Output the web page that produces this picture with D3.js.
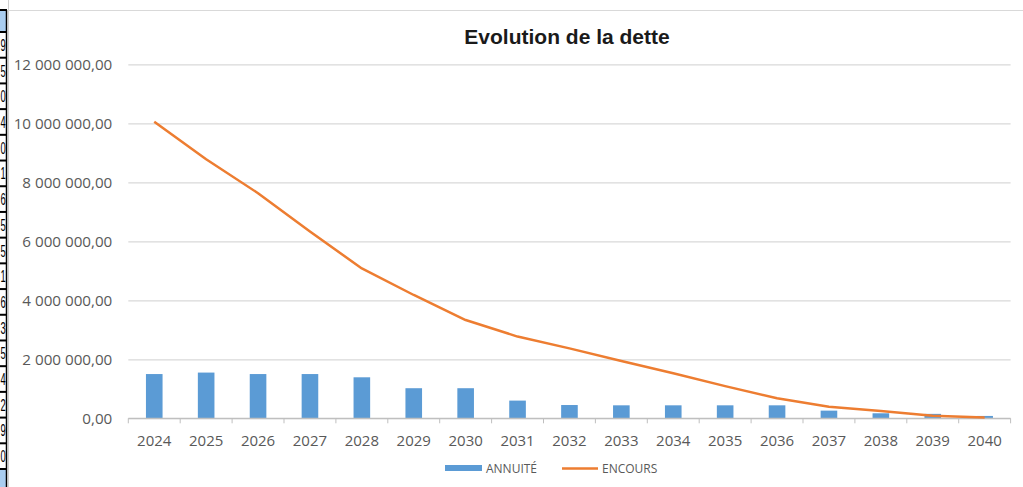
<!DOCTYPE html>
<html>
<head>
<meta charset="utf-8">
<script src="https://cdn.jsdelivr.net/npm/d3@7"></script>
<style>
  body { margin: 0; background: #fff; }
  svg { display: block; }
</style>
</head>
<body>
<script>
var width = 1023;
var height = 487;

var years = ["2024", "2025", "2026", "2027", "2028", "2029", "2030", "2031", "2032",
  "2033", "2034", "2035", "2036", "2037", "2038", "2039", "2040"];
var annuite = [1500000, 1550000, 1500000, 1500000, 1390000, 1020000, 1020000, 600000, 450000,
  440000, 440000, 440000, 440000, 260000, 170000, 150000, 80000];
var encours = [10050000, 8780000, 7630000, 6330000, 5080000, 4180000, 3330000, 2770000, 2370000,
  1940000, 1530000, 1090000, 680000, 390000, 250000, 90000, 30000];
var yTicks = [0, 2000000, 4000000, 6000000, 8000000, 10000000, 12000000];
var sheetDigits = ["9", "5", "0", "4", "0", "1", "6", "5", "5", "1", "6", "3", "5", "4", "2", "9", "0"];

var fr = d3.formatLocale({ decimal: ",", thousands: " ", grouping: [3], currency: ["", " €"] });
var fmt = fr.format(",.2f");

var svg = d3.select("body")
  .append("svg")
  .attr("width", width)
  .attr("height", height);

// bout de feuille Excel a gauche
var sheet = svg.append("g");
var rowY = d3.scaleLinear().domain([0, sheetDigits.length]).range([32, 469]);
sheet.append("rect").attr("x", 0).attr("y", 10).attr("width", 7).attr("height", 22).attr("fill", "#a9cdf0");
sheet.append("rect").attr("x", 0).attr("y", 469).attr("width", 7).attr("height", 18).attr("fill", "#a9cdf0");
sheet.selectAll(".dig")
  .data(sheetDigits)
  .enter()
  .append("text")
  .attr("transform", function (d, i) {
    return "translate(5.6," + ((rowY(i) + rowY(i + 1)) / 2 + 6) + ") scale(0.55,1)";
  })
  .attr("text-anchor", "end")
  .attr("font-family", "Liberation Sans, Arial, sans-serif")
  .attr("font-size", 17)
  .attr("fill", "#000")
  .text(function (d) { return d; });
sheet.selectAll(".row")
  .data(d3.range(sheetDigits.length + 1))
  .enter()
  .append("line")
  .attr("x1", 0).attr("x2", 7)
  .attr("y1", function (d) { return rowY(d); })
  .attr("y2", function (d) { return rowY(d); })
  .attr("stroke", "#000")
  .attr("stroke-width", 2);
sheet.append("line").attr("x1", 0).attr("x2", 7).attr("y1", 10).attr("y2", 10).attr("stroke", "#000").attr("stroke-width", 2);
sheet.append("line").attr("x1", 6.5).attr("x2", 6.5).attr("y1", 10).attr("y2", height).attr("stroke", "#000").attr("stroke-width", 1.5);

// cadre du graphique
svg.append("line").attr("x1", 8.5).attr("x2", 8.5).attr("y1", 0).attr("y2", height).attr("stroke", "#d0d0d0");
svg.append("line").attr("x1", 8).attr("x2", width).attr("y1", 10.5).attr("y2", 10.5).attr("stroke", "#d9d9d9");

var x = d3.scaleBand()
  .domain(years)
  .range([128.3, 1010.6])
  .paddingInner(0.68)
  .paddingOuter(0.34);

var xb = d3.scaleBand()
  .domain(years)
  .range([128.3, 1010.6]);

var y = d3.scaleLinear()
  .domain([0, 12000000])
  .range([418.3, 64.3]);

svg.append("text")
  .attr("x", 567)
  .attr("y", 44)
  .attr("text-anchor", "middle")
  .attr("font-family", "Liberation Sans, Arial, sans-serif")
  .attr("font-weight", "bold")
  .attr("font-size", 21)
  .attr("fill", "#1a1a1a")
  .text("Evolution de la dette");

var yAxis = svg.append("g")
  .attr("transform", "translate(128.3,0)")
  .call(d3.axisLeft(y).tickValues(yTicks).tickFormat(fmt).tickSize(-(1010.6 - 128.3)).tickPadding(16));
yAxis.select(".domain").remove();
yAxis.selectAll(".tick line").attr("stroke", "#d9d9d9").attr("stroke-width", 1.3);
yAxis.selectAll(".tick text")
  .attr("font-family", "Open Sans, sans-serif")
  .attr("font-size", 15.2)
  .attr("fill", "#595959");

var bars = svg.selectAll(".bar")
  .data(years)
  .enter()
  .append("rect")
  .attr("x", function (d) { return x(d); })
  .attr("y", function (d, i) { return y(annuite[i]); })
  .attr("width", x.bandwidth())
  .attr("height", function (d, i) { return y(0) - y(annuite[i]); })
  .attr("fill", "#5b9bd5");

var xAxis = svg.append("g")
  .attr("transform", "translate(0,418.3)");
xAxis.append("line")
  .attr("x1", 128.3).attr("x2", 1010.6)
  .attr("y1", 0).attr("y2", 0)
  .attr("stroke", "#bfbfbf")
  .attr("stroke-width", 1.3);
xAxis.selectAll(".tk")
  .data(years.concat(["end"]))
  .enter()
  .append("line")
  .attr("x1", function (d, i) { return 128.3 + i * xb.step(); })
  .attr("x2", function (d, i) { return 128.3 + i * xb.step(); })
  .attr("y1", 0).attr("y2", 5)
  .attr("stroke", "#bfbfbf");
xAxis.selectAll(".lbl")
  .data(years)
  .enter()
  .append("text")
  .attr("x", function (d) { return x(d) + x.bandwidth() / 2; })
  .attr("y", 28)
  .attr("text-anchor", "middle")
  .attr("font-family", "Open Sans, sans-serif")
  .attr("font-size", 15)
  .attr("fill", "#595959")
  .text(function (d) { return d; });

var line = d3.line()
  .x(function (d, i) { return x(years[i]) + x.bandwidth() / 2; })
  .y(function (d) { return y(d); });

svg.append("path")
  .attr("d", line(encours))
  .attr("fill", "none")
  .attr("stroke", "#ed7d31")
  .attr("stroke-width", 2.5)
  .attr("stroke-linejoin", "round");

// legende
var legend = svg.append("g");
legend.append("rect").attr("x", 445).attr("y", 465).attr("width", 37).attr("height", 6).attr("fill", "#5b9bd5");
legend.append("text").attr("x", 486).attr("y", 472.5)
  .attr("font-family", "Open Sans, sans-serif").attr("font-size", 12).attr("fill", "#595959")
  .text("ANNUITÉ");
legend.append("line").attr("x1", 562).attr("x2", 598).attr("y1", 468.5).attr("y2", 468.5)
  .attr("stroke", "#ed7d31").attr("stroke-width", 2.5);
legend.append("text").attr("x", 602).attr("y", 472.5)
  .attr("font-family", "Open Sans, sans-serif").attr("font-size", 12).attr("fill", "#595959")
  .text("ENCOURS");
</script>
</body>
</html>
